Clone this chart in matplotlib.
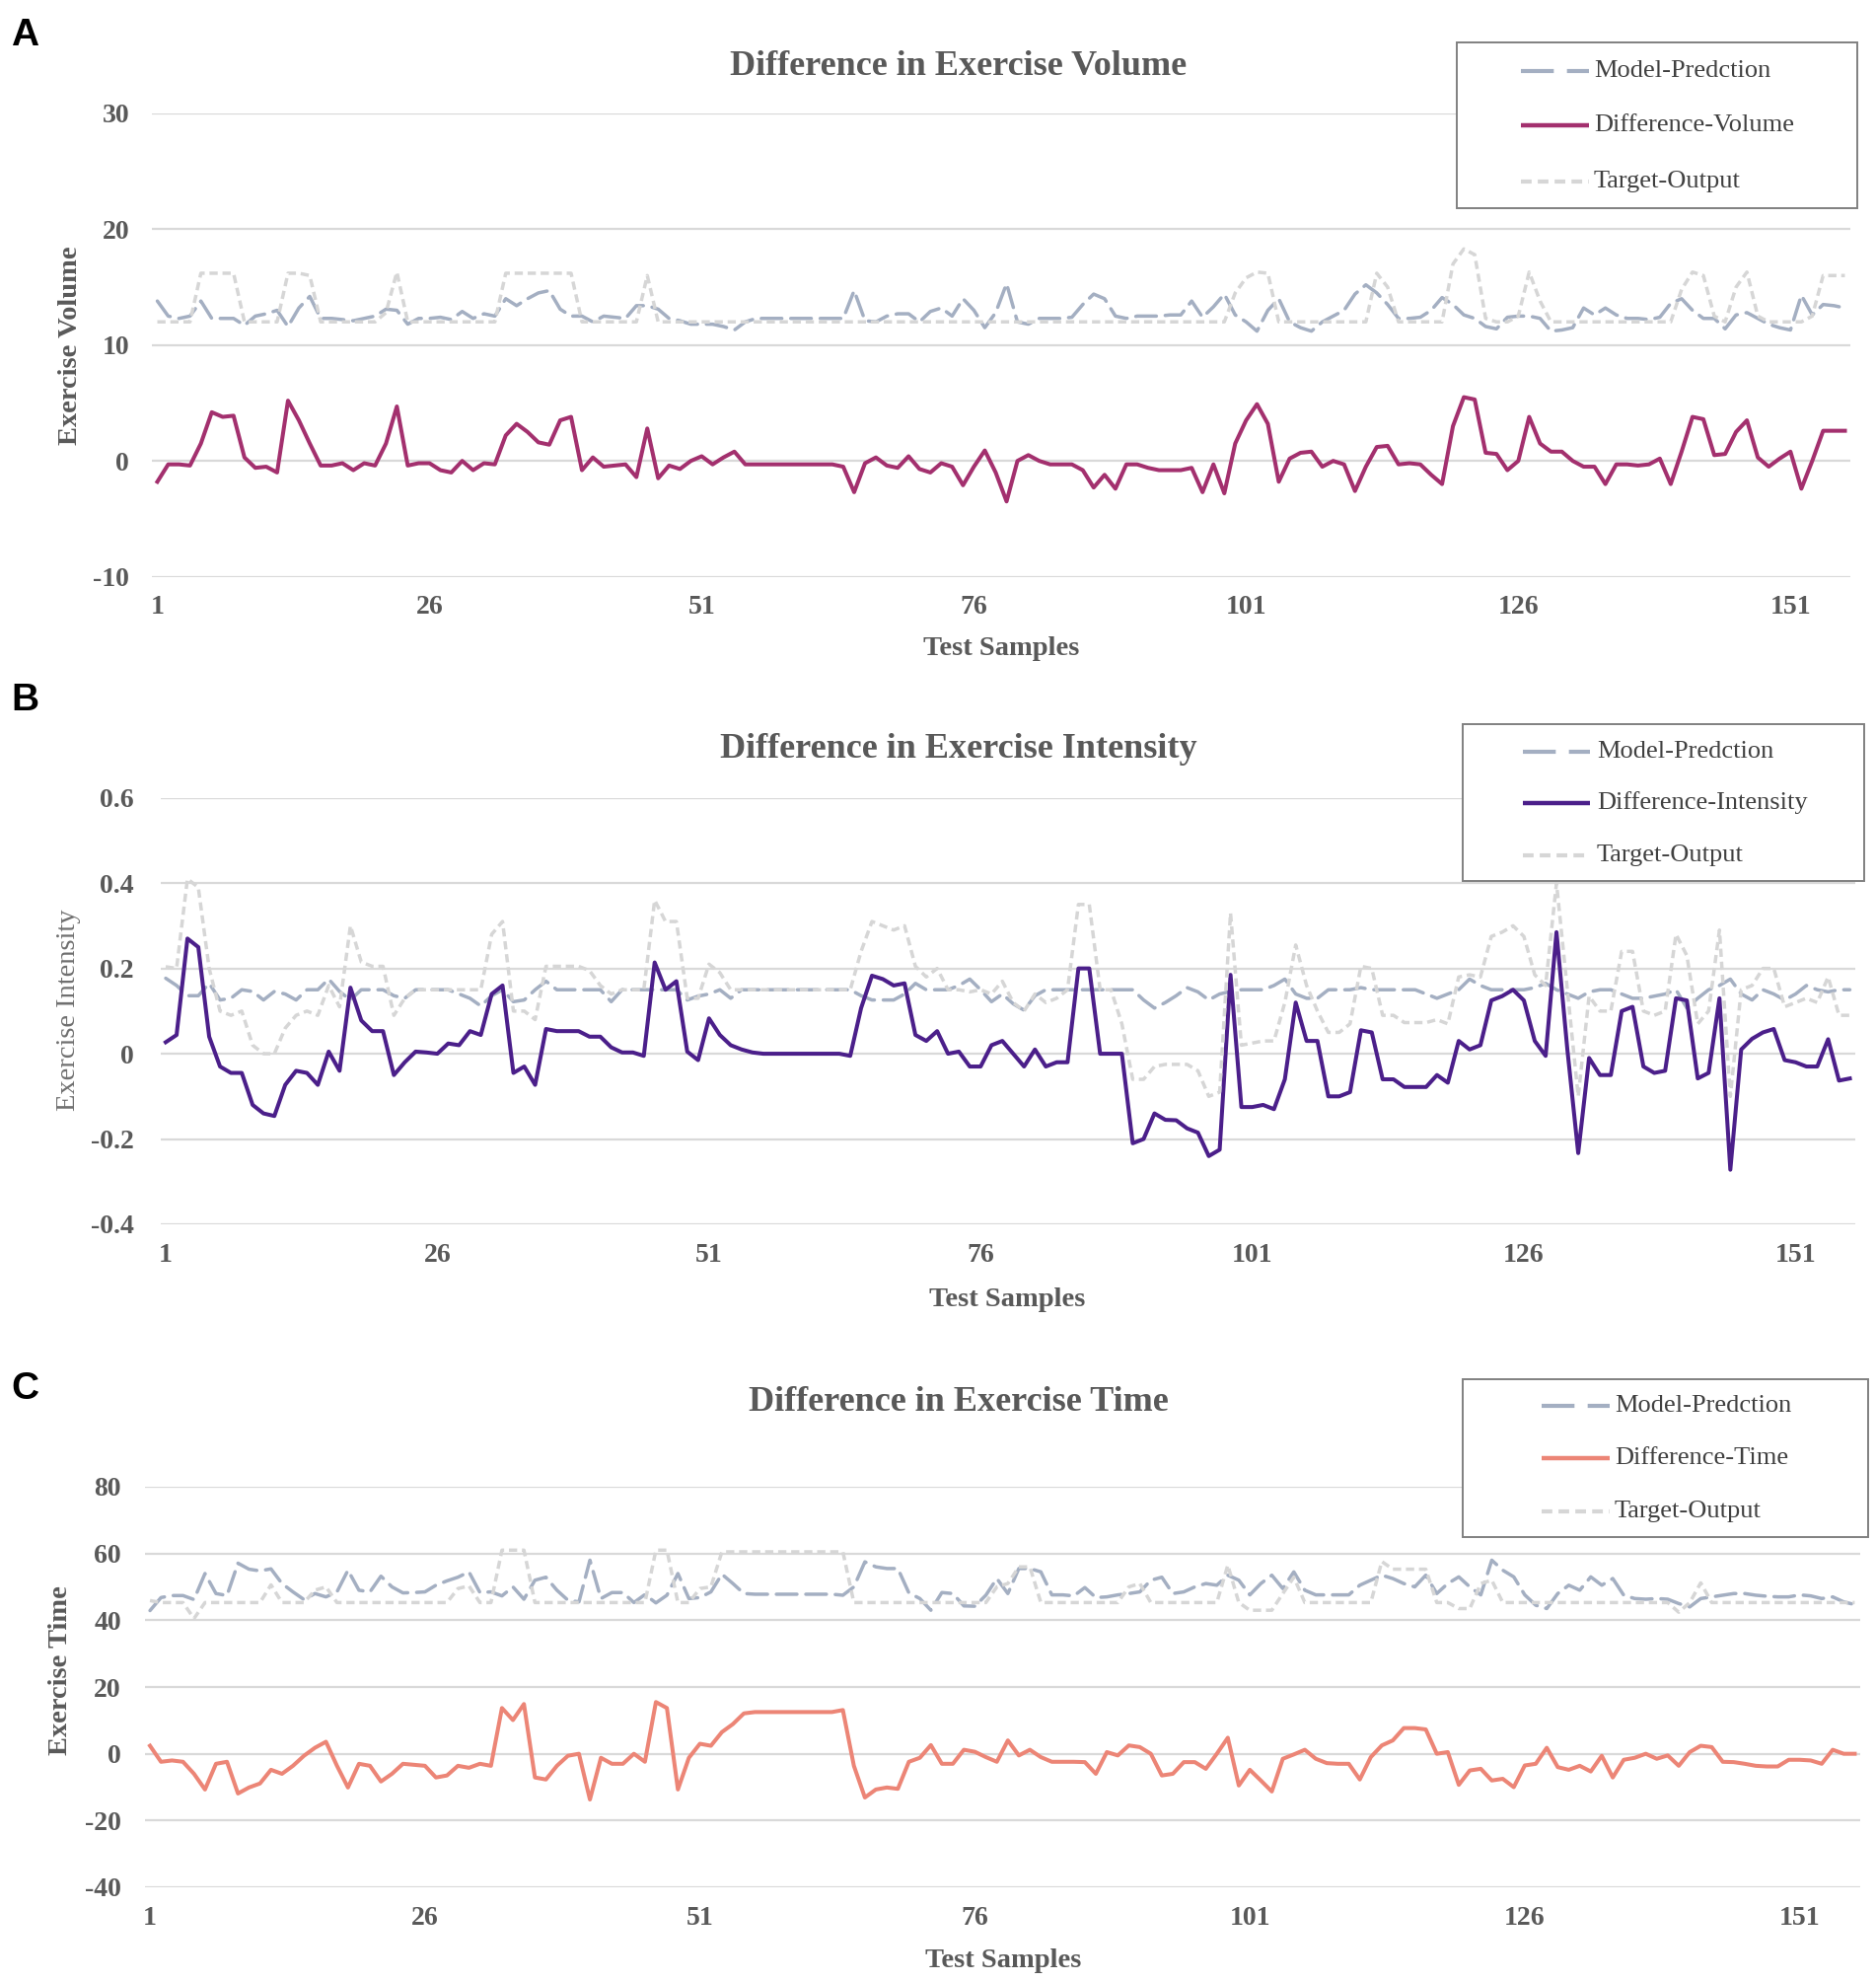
import numpy as np
import matplotlib
matplotlib.use("Agg")
import matplotlib.pyplot as plt
from matplotlib.patches import Rectangle

plt.rcParams['axes.unicode_minus'] = False

# ---- data (sample 1..156) ----
vol_model = [13.8, 12.5, 12.3, 12.5, 13.8, 12.3, 12.3, 12.3, 11.7, 12.5,
             12.7, 13.0, 11.6, 13.2, 14.2, 12.3, 12.3, 12.2, 12.1, 12.3,
             12.5, 13.1, 13.0, 11.8, 12.3, 12.3, 12.4, 12.2, 12.9, 12.3,
             12.7, 12.5, 14.0, 13.4, 14.0, 14.5, 14.7, 13.1, 12.5, 12.5,
             12.0, 12.5, 12.4, 12.3, 13.4, 13.4, 13.1, 12.3, 12.1, 11.8,
             11.8, 11.8, 11.6, 11.3, 12.0, 12.3, 12.3, 12.3, 12.3, 12.3,
             12.3, 12.3, 12.3, 12.3, 14.7, 12.1, 12.0, 12.5, 12.7, 12.7,
             12.0, 12.9, 13.2, 12.5, 14.0, 13.0, 11.5, 12.8, 15.3, 12.0,
             11.8, 12.3, 12.3, 12.3, 12.4, 13.5, 14.4, 14.0, 12.5, 12.3,
             12.5, 12.5, 12.5, 12.6, 12.6, 13.8, 12.4, 13.3, 14.4, 12.6,
             12.0, 11.2, 13.0, 14.0, 12.0, 11.5, 11.2, 12.0, 12.5, 13.0,
             14.4, 15.2, 14.5, 13.5, 12.3, 12.3, 12.4, 13.0, 14.1, 13.5,
             12.6, 12.3, 11.6, 11.4, 12.4, 12.5, 12.5, 12.3, 11.2, 11.3,
             11.5, 13.2, 12.6, 13.2, 12.6, 12.3, 12.3, 12.2, 12.4, 13.6,
             14.0, 13.0, 12.3, 12.3, 11.4, 12.6, 12.8, 12.3, 11.8, 11.5,
             11.3, 14.3, 12.6, 13.5, 13.4, 13.2]
vol_diff = [-1.8, -0.3, -0.3, -0.4, 1.5, 4.2, 3.8, 3.9, 0.3, -0.6,
            -0.5, -1.0, 5.2, 3.5, 1.5, -0.4, -0.4, -0.2, -0.8, -0.2,
            -0.4, 1.5, 4.7, -0.4, -0.2, -0.2, -0.8, -1.0, 0.0, -0.8,
            -0.2, -0.3, 2.2, 3.2, 2.5, 1.6, 1.4, 3.5, 3.8, -0.8,
            0.3, -0.5, -0.4, -0.3, -1.4, 2.8, -1.5, -0.4, -0.7, 0.0,
            0.4, -0.3, 0.3, 0.8, -0.3, -0.3, -0.3, -0.3, -0.3, -0.3,
            -0.3, -0.3, -0.3, -0.5, -2.7, -0.2, 0.3, -0.4, -0.6, 0.4,
            -0.7, -1.0, -0.2, -0.5, -2.1, -0.5, 0.9, -1.0, -3.5, 0.0,
            0.5, 0.0, -0.3, -0.3, -0.3, -0.8, -2.3, -1.2, -2.4, -0.3,
            -0.3, -0.6, -0.8, -0.8, -0.8, -0.6, -2.7, -0.3, -2.8, 1.5,
            3.5, 4.9, 3.2, -1.8, 0.2, 0.7, 0.8, -0.5, 0.0, -0.3,
            -2.6, -0.5, 1.2, 1.3, -0.3, -0.2, -0.3, -1.2, -2.0, 3.0,
            5.5, 5.3, 0.7, 0.6, -0.8, 0.0, 3.8, 1.5, 0.8, 0.8,
            0.0, -0.5, -0.5, -2.0, -0.3, -0.3, -0.4, -0.3, 0.2, -2.0,
            0.8, 3.8, 3.6, 0.5, 0.6, 2.5, 3.5, 0.3, -0.5, 0.2,
            0.8, -2.4, 0.0, 2.6, 2.6, 2.6]
vol_target = [12.0, 12.0, 12.0, 12.0, 16.2, 16.2, 16.2, 16.2, 12.0, 12.0,
              12.0, 12.0, 16.2, 16.2, 16.0, 12.0, 12.0, 12.0, 12.0, 12.0,
              12.0, 12.8, 16.3, 12.0, 12.0, 12.0, 12.0, 12.0, 12.0, 12.0,
              12.0, 12.0, 16.2, 16.2, 16.2, 16.2, 16.2, 16.2, 16.2, 12.0,
              12.0, 12.0, 12.0, 12.0, 12.0, 16.0, 12.0, 12.0, 12.0, 12.0,
              12.0, 12.0, 12.0, 12.0, 12.0, 12.0, 12.0, 12.0, 12.0, 12.0,
              12.0, 12.0, 12.0, 12.0, 12.0, 12.0, 12.0, 12.0, 12.0, 12.0,
              12.0, 12.0, 12.0, 12.0, 12.0, 12.0, 12.0, 12.0, 12.0, 12.0,
              12.0, 12.0, 12.0, 12.0, 12.0, 12.0, 12.0, 12.0, 12.0, 12.0,
              12.0, 12.0, 12.0, 12.0, 12.0, 12.0, 12.0, 12.0, 12.0, 14.5,
              15.8, 16.3, 16.2, 12.0, 12.0, 12.0, 12.0, 12.0, 12.0, 12.0,
              12.0, 12.0, 16.2, 15.0, 12.0, 12.0, 12.0, 12.0, 12.0, 17.0,
              18.3, 17.8, 12.3, 12.0, 12.0, 12.5, 16.3, 13.8, 12.0, 12.0,
              12.0, 12.0, 12.0, 12.0, 12.0, 12.0, 12.0, 12.0, 12.0, 12.0,
              14.8, 16.3, 16.0, 12.5, 12.0, 15.0, 16.3, 12.5, 12.0, 12.0,
              12.0, 12.0, 12.5, 16.0, 16.0, 16.0]

int_model = [0.177, 0.16, 0.136, 0.136, 0.165, 0.126, 0.13, 0.15, 0.146, 0.126,
             0.146, 0.14, 0.126, 0.15, 0.15, 0.175, 0.146, 0.126, 0.15, 0.15,
             0.15, 0.136, 0.13, 0.15, 0.15, 0.15, 0.15, 0.14, 0.13, 0.112,
             0.136, 0.15, 0.122, 0.126, 0.15, 0.17, 0.15, 0.15, 0.15, 0.15,
             0.15, 0.122, 0.15, 0.15, 0.15, 0.15, 0.15, 0.15, 0.126, 0.135,
             0.14, 0.15, 0.13, 0.15, 0.15, 0.15, 0.15, 0.15, 0.15, 0.15,
             0.15, 0.15, 0.15, 0.15, 0.136, 0.126, 0.126, 0.126, 0.14, 0.165,
             0.15, 0.15, 0.15, 0.16, 0.175, 0.15, 0.122, 0.14, 0.117, 0.102,
             0.136, 0.15, 0.15, 0.15, 0.15, 0.15, 0.15, 0.15, 0.15, 0.15,
             0.126, 0.107, 0.12, 0.136, 0.155, 0.145, 0.126, 0.14, 0.146, 0.15,
             0.15, 0.15, 0.16, 0.175, 0.14, 0.13, 0.13, 0.15, 0.15, 0.15,
             0.155, 0.15, 0.15, 0.15, 0.15, 0.15, 0.14, 0.13, 0.14, 0.15,
             0.175, 0.16, 0.15, 0.15, 0.15, 0.15, 0.155, 0.165, 0.15, 0.14,
             0.13, 0.145, 0.15, 0.15, 0.14, 0.13, 0.13, 0.135, 0.14, 0.15,
             0.107, 0.13, 0.15, 0.16, 0.175, 0.14, 0.126, 0.15, 0.14, 0.126,
             0.14, 0.16, 0.15, 0.145, 0.15, 0.15]
int_diff = [0.027, 0.044, 0.27, 0.25, 0.04, -0.03, -0.045, -0.045, -0.12, -0.14,
            -0.146, -0.073, -0.04, -0.045, -0.073, 0.005, -0.04, 0.155, 0.078, 0.053,
            0.053, -0.05, -0.02, 0.005, 0.003, 0.0, 0.024, 0.02, 0.053, 0.044,
            0.14, 0.16, -0.045, -0.03, -0.073, 0.058, 0.053, 0.053, 0.053, 0.04,
            0.04, 0.015, 0.003, 0.003, -0.005, 0.214, 0.15, 0.17, 0.005, -0.015,
            0.083, 0.044, 0.02, 0.01, 0.003, 0.0, 0.0, 0.0, 0.0, 0.0,
            0.0, 0.0, 0.0, -0.005, 0.107, 0.183, 0.175, 0.16, 0.165, 0.044,
            0.03, 0.053, 0.0, 0.005, -0.03, -0.03, 0.02, 0.03, 0.0, -0.03,
            0.01, -0.03, -0.02, -0.02, 0.2, 0.2, 0.0, 0.0, 0.0, -0.21,
            -0.2, -0.14, -0.155, -0.156, -0.175, -0.185, -0.24, -0.225, 0.185, -0.125,
            -0.125, -0.12, -0.13, -0.06, 0.12, 0.03, 0.03, -0.1, -0.1, -0.09,
            0.055, 0.05, -0.06, -0.06, -0.078, -0.078, -0.078, -0.05, -0.068, 0.03,
            0.01, 0.02, 0.125, 0.135, 0.15, 0.125, 0.03, -0.005, 0.285, 0.01,
            -0.233, -0.01, -0.05, -0.05, 0.1, 0.11, -0.03, -0.045, -0.04, 0.13,
            0.125, -0.058, -0.045, 0.13, -0.272, 0.01, 0.035, 0.05, 0.058, -0.015,
            -0.02, -0.03, -0.03, 0.034, -0.063, -0.058]
int_target = [0.204, 0.2, 0.41, 0.39, 0.2, 0.1, 0.09, 0.1, 0.02, 0.0,
              0.0, 0.06, 0.09, 0.1, 0.09, 0.16, 0.11, 0.3, 0.215, 0.205,
              0.205, 0.09, 0.13, 0.15, 0.15, 0.15, 0.15, 0.15, 0.15, 0.15,
              0.28, 0.31, 0.1, 0.1, 0.08, 0.205, 0.205, 0.205, 0.205, 0.195,
              0.16, 0.14, 0.15, 0.15, 0.15, 0.36, 0.31, 0.31, 0.13, 0.13,
              0.21, 0.19, 0.15, 0.15, 0.15, 0.15, 0.15, 0.15, 0.15, 0.15,
              0.15, 0.15, 0.15, 0.15, 0.24, 0.31, 0.3, 0.29, 0.3, 0.205,
              0.18, 0.2, 0.15, 0.15, 0.145, 0.15, 0.14, 0.17, 0.12, 0.1,
              0.14, 0.12, 0.13, 0.15, 0.35, 0.35, 0.15, 0.15, 0.07, -0.06,
              -0.06, -0.03, -0.025, -0.025, -0.025, -0.04, -0.1, -0.09, 0.33, 0.02,
              0.025, 0.03, 0.03, 0.12, 0.255, 0.16, 0.1, 0.05, 0.05, 0.07,
              0.205, 0.2, 0.09, 0.09, 0.073, 0.073, 0.073, 0.08, 0.07, 0.18,
              0.185, 0.18, 0.275, 0.285, 0.3, 0.275, 0.185, 0.16, 0.4, 0.15,
              -0.1, 0.135, 0.1, 0.1, 0.24, 0.24, 0.1, 0.09, 0.1, 0.28,
              0.23, 0.07, 0.1, 0.29, -0.1, 0.15, 0.16, 0.2, 0.2, 0.11,
              0.12, 0.13, 0.12, 0.18, 0.09, 0.09]

time_model = [42.9, 46.8, 47.4, 47.4, 46.2, 54.0, 48.0, 47.4, 57.1, 55.3,
              54.8, 55.4, 51.0, 48.5, 46.2, 48.0, 47.0, 48.5, 55.0, 49.0,
              48.5, 53.2, 50.0, 48.2, 48.3, 48.5, 50.5, 51.8, 52.9, 54.5,
              48.3, 48.5, 47.3, 50.0, 46.3, 52.0, 52.9, 49.0, 46.0, 45.5,
              58.0, 46.5, 48.3, 48.3, 45.3, 47.7, 45.2, 47.5, 54.0, 46.5,
              46.8, 48.5, 53.8, 51.0, 48.0, 47.8, 47.8, 47.8, 47.8, 47.8,
              47.8, 47.8, 47.8, 47.5, 50.0, 57.5, 56.0, 55.5, 55.5, 48.2,
              46.5, 43.0, 48.3, 48.0, 44.3, 44.2, 47.5, 52.5, 48.0, 55.5,
              55.5, 54.5, 47.6, 47.6, 47.3, 49.8, 46.8, 47.0, 47.6, 48.0,
              48.5, 52.0, 52.9, 48.0, 48.5, 50.0, 51.0, 50.5, 53.5, 52.0,
              47.6, 51.0, 53.5, 49.5, 54.5, 49.0, 47.6, 47.6, 47.6, 47.6,
              50.5, 52.0, 53.5, 52.5, 51.0, 50.0, 53.5, 48.0, 51.0, 53.0,
              50.0, 47.6, 58.0, 55.0, 53.0, 47.6, 44.5, 43.5, 48.0, 50.5,
              49.0, 53.0, 50.5, 52.5, 47.5, 46.5, 46.3, 46.5, 46.3, 45.0,
              44.0, 46.5, 47.0, 47.5, 48.0, 48.0, 47.5, 47.2, 47.0, 47.0,
              47.6, 47.3, 46.5, 47.0, 45.5, 44.7]
time_diff = [2.4, -2.4, -2.0, -2.4, -6.0, -10.7, -3.0, -2.4, -11.9, -10.1,
             -8.9, -4.8, -6.0, -3.6, -0.6, 1.8, 3.6, -3.6, -10.1, -3.0,
             -3.6, -8.3, -6.0, -3.0, -3.3, -3.6, -7.1, -6.5, -3.6, -4.2,
             -3.0, -3.6, 13.7, 10.1, 14.9, -7.1, -7.7, -3.6, -0.6, 0.0,
             -13.7, -1.2, -3.0, -3.0, 0.0, -2.4, 15.5, 13.7, -10.7, -1.2,
             3.0, 2.4, 6.5, 8.9, 12.1, 12.5, 12.5, 12.5, 12.5, 12.5,
             12.5, 12.5, 12.5, 13.1, -3.6, -13.1, -10.7, -10.1, -10.5, -2.4,
             -1.2, 2.6, -3.0, -3.0, 1.2, 0.6, -1.0, -2.4, 4.0, -0.5,
             1.2, -1.0, -2.4, -2.4, -2.4, -2.5, -6.0, 0.5, -0.5, 2.5,
             2.0, 0.0, -6.5, -6.0, -2.5, -2.5, -4.5, 0.0, 4.8, -9.5,
             -4.8, -8.0, -11.3, -1.5, -0.2, 1.2, -1.5, -2.8, -3.0, -3.0,
             -7.7, -1.0, 2.5, 4.0, 7.7, 7.7, 7.3, 0.0, 0.5, -9.3,
             -5.0, -4.5, -8.0, -7.5, -10.0, -3.5, -3.0, 1.8, -4.0, -4.8,
             -3.6, -5.3, -0.6, -7.1, -1.8, -1.2, 0.0, -1.5, -0.5, -3.6,
             0.5, 2.4, 2.0, -2.4, -2.5, -3.0, -3.6, -3.8, -3.8, -1.8,
             -1.8, -2.0, -3.0, 1.2, 0.0, 0.0]
time_target = [45.9, 45.3, 45.3, 45.3, 40.5, 45.3, 45.3, 45.3, 45.3, 45.3,
               45.3, 50.6, 45.3, 45.3, 45.3, 49.0, 50.0, 45.3, 45.3, 45.3,
               45.3, 45.3, 45.3, 45.3, 45.3, 45.3, 45.3, 45.3, 49.5, 50.3,
               45.3, 45.3, 61.0, 61.0, 61.0, 45.3, 45.3, 45.3, 45.3, 45.3,
               45.3, 45.3, 45.3, 45.3, 45.3, 45.3, 61.0, 61.0, 45.3, 45.3,
               49.5, 50.0, 60.5, 60.5, 60.5, 60.5, 60.5, 60.5, 60.5, 60.5,
               60.5, 60.5, 60.5, 60.5, 45.3, 45.3, 45.3, 45.3, 45.3, 45.3,
               45.3, 45.3, 45.3, 45.3, 45.3, 45.3, 45.3, 50.0, 51.0, 56.0,
               56.0, 45.3, 45.3, 45.3, 45.3, 45.3, 45.3, 45.3, 45.3, 50.0,
               51.0, 45.3, 45.3, 45.3, 45.3, 45.3, 45.3, 45.3, 56.5, 45.3,
               43.0, 43.0, 43.0, 48.0, 52.9, 45.3, 45.3, 45.3, 45.3, 45.3,
               45.3, 45.3, 57.6, 55.3, 55.3, 55.3, 55.3, 45.3, 45.3, 43.5,
               43.5, 51.0, 52.0, 45.3, 45.3, 45.3, 45.3, 45.3, 45.3, 45.3,
               45.3, 45.3, 45.3, 45.3, 45.3, 45.3, 45.3, 45.3, 45.3, 42.4,
               45.3, 51.2, 45.3, 45.3, 45.3, 45.3, 45.3, 45.3, 45.3, 45.3,
               45.3, 45.3, 45.3, 45.3, 45.3, 45.3]

xtick_vals = [1, 26, 51, 76, 101, 126, 151]

W, H = 1902, 2009
GRID = '#D9D9D9'
TXT = '#595959'
MODEL_C = '#A4AFC2'
TARGET_C = '#D6D6D6'
SERIF = ['Liberation Serif', 'DejaVu Serif']

fig = plt.figure(figsize=(W / 100, H / 100), dpi=100)


def rect(l, t, r, b):
    return [l / W, 1 - b / H, (r - l) / W, (b - t) / H]


panels = [
    dict(box=(154, 114.9, 1876, 584.6), ylim=(-10, 30), yt=[-10, 0, 10, 20, 30],
         ylab=['-10', '0', '10', '20', '30'], model=vol_model, diff=vol_diff,
         target=vol_target, color='#A3306E', ypad=16.5, xpad=13),
    dict(box=(162.5, 808.7, 1881, 1241), ylim=(-0.4, 0.6),
         yt=[-0.4, -0.2, 0, 0.2, 0.4, 0.6],
         ylab=['-0.4', '-0.2', '0', '0.2', '0.4', '0.6'], model=int_model,
         diff=int_diff, target=int_target, color='#4B1F8A', ypad=19, xpad=13.5),
    dict(box=(146.5, 1507, 1886, 1913), ylim=(-40, 80),
         yt=[-40, -20, 0, 20, 40, 60, 80],
         ylab=['-40', '-20', '0', '20', '40', '60', '80'], model=time_model,
         diff=time_diff, target=time_target, color='#EC8576', ypad=17, xpad=14),
]

for p in panels:
    ax = fig.add_axes(rect(*p['box']))
    xm = np.arange(1, len(p['model']) + 1)
    xd = np.arange(1, len(p['diff']) + 1)
    xt = np.arange(1, len(p['target']) + 1)
    ax.plot(xm, p['model'], color=MODEL_C, lw=2.5, dashes=(6, 2.6),
            dash_capstyle='round', dash_joinstyle='round', zorder=3)
    ax.plot(xd, p['diff'], color=p['color'], lw=2.9, solid_joinstyle='round',
            zorder=4)
    ax.plot(xt, p['target'], color=TARGET_C, lw=2.5, dashes=(2.4, 1.4),
            dash_capstyle='butt', zorder=5)
    ax.set_xlim(0.5, 156.5)
    ax.set_ylim(*p['ylim'])
    ax.set_yticks(p['yt'], p['ylab'])
    ax.set_xticks(xtick_vals, [str(v) for v in xtick_vals])
    for s in ax.spines.values():
        s.set_visible(False)
    ax.yaxis.grid(True, color=GRID, lw=1.6)
    ax.set_axisbelow(True)
    ax.tick_params(axis='y', length=0, pad=p['ypad'])
    ax.tick_params(axis='x', length=0, pad=p['xpad'])
    for lab in ax.get_xticklabels() + ax.get_yticklabels():
        lab.set_family(SERIF)
        lab.set_fontweight('bold')
        lab.set_fontsize(20)
        lab.set_color(TXT)
    ax.patch.set_alpha(0)

# overlay in pixel coordinates for titles, labels and legends
ov = fig.add_axes([0, 0, 1, 1])
ov.set_xlim(0, W)
ov.set_ylim(H, 0)
ov.axis('off')

titles = [('Difference in Exercise Volume', 76),
          ('Difference in Exercise Intensity', 768),
          ('Difference in Exercise Time', 1430)]
for t, yb in titles:
    ov.text(972, yb, t, ha='center', va='baseline', fontsize=26,
            fontweight='bold', family=SERIF, color=TXT)

for letter, yb in [('A', 45.5), ('B', 719.5), ('C', 1418)]:
    ov.text(11, yb, letter, ha='left', va='baseline', fontsize=28,
            fontweight='bold', family=['Liberation Sans', 'DejaVu Sans'],
            color='black')

ylabels = [('Exercise Volume', 71, 350, 'bold', TXT),
           ('Exercise Intensity', 70, 1024, 'normal', '#6F6F6F'),
           ('Exercise Time', 62, 1693, 'bold', TXT)]
for t, x, y, w, c in ylabels:
    ov.text(x, y, t, rotation=90, ha='center', va='center', fontsize=20.5,
            fontweight=w, family=SERIF, color=c)

for x, y in [(1015, 657), (1021, 1317), (1017, 1987)]:
    ov.text(x, y, 'Test Samples', ha='center', va='center', fontsize=20.5,
            fontweight='bold', family=SERIF, color=TXT)

legends = [
    dict(box=(1477, 43, 1883, 211), rows=(71.5, 127, 184), hx=(1542, 1611),
         tx=1616, lab='Difference-Volume', color=panels[0]['color']),
    dict(box=(1483, 734, 1890, 893), rows=(761.5, 814, 867), hx=(1544, 1612),
         tx=1619, lab='Difference-Intensity', color=panels[1]['color']),
    dict(box=(1483, 1398, 1894, 1558), rows=(1425, 1478, 1532), hx=(1563, 1632),
         tx=1637, lab='Difference-Time', color=panels[2]['color']),
]
for lg in legends:
    l, t, r, b = lg['box']
    ov.add_patch(Rectangle((l, t), r - l, b - t, facecolor='white',
                           edgecolor='#808080', lw=1.4, zorder=6))
    x0, x1 = lg['hx']
    y0, y1, y2 = lg['rows']
    ov.plot([x0, x1], [y0, y0], color=MODEL_C, lw=3, dashes=(8, 3.2),
            dash_capstyle='butt', zorder=7)
    ov.plot([x0, x1], [y1, y1], color=lg['color'], lw=3.2,
            solid_capstyle='butt', zorder=7)
    ov.plot([x0, x1], [y2, y2], color=TARGET_C, lw=3, dashes=(2.6, 1.5),
            dash_capstyle='butt', zorder=7)
    for yy, txt in zip(lg['rows'], ['Model-Predction', lg['lab'], 'Target-Output']):
        ov.text(lg['tx'], yy, txt, ha='left', va='center', fontsize=19,
                family=SERIF, color='#404040', zorder=8)

fig.savefig('out.png', dpi=100)
